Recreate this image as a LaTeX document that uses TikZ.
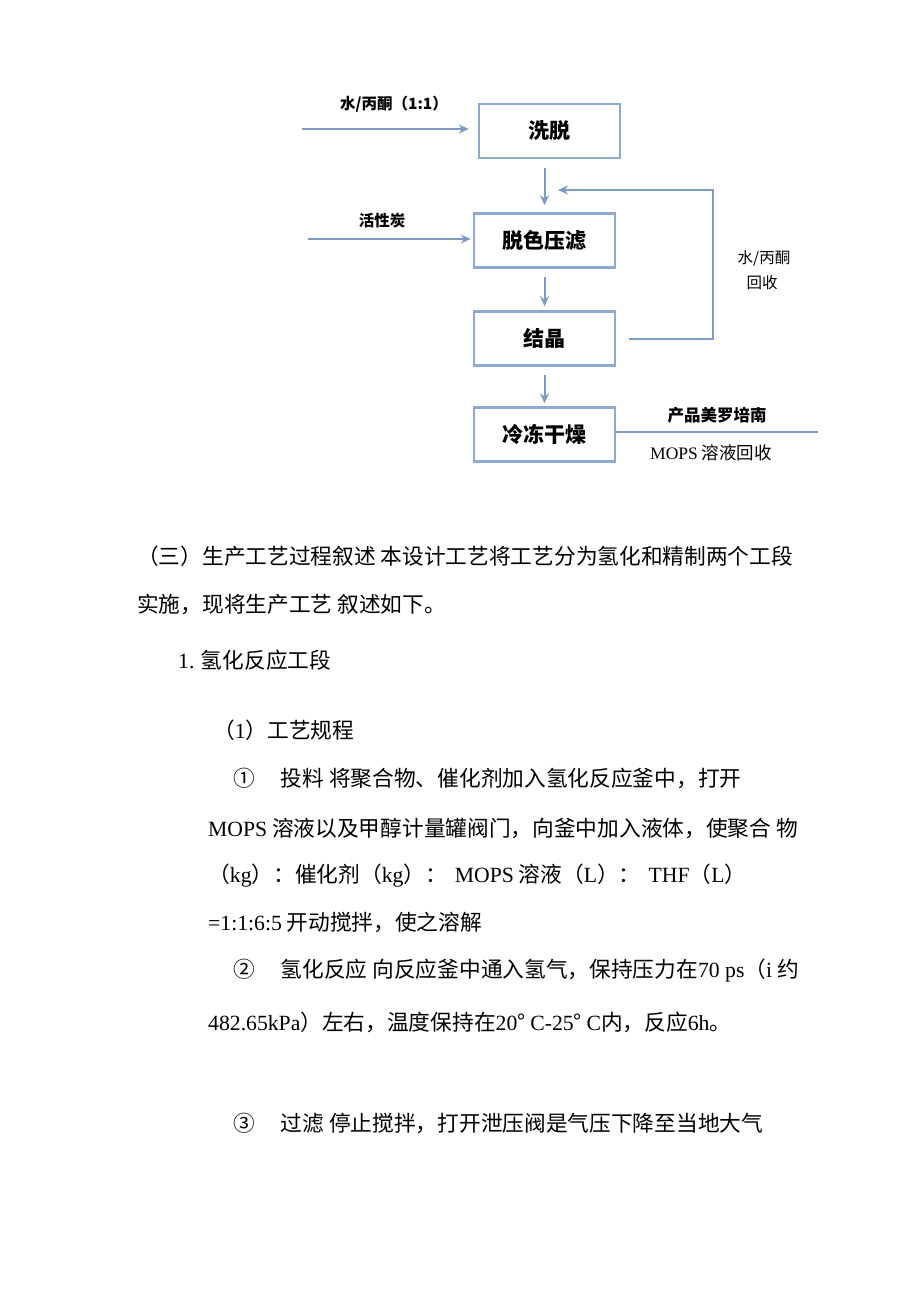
\documentclass[tikz,border=0pt]{standalone}
\usepackage{fontspec}
\setmainfont{Liberation Serif}
\newfontfamily\cjk{Noto Sans CJK SC}
\usetikzlibrary{arrows.meta}
\definecolor{boxc}{HTML}{8EAAD0}
\definecolor{arrc}{HTML}{7C9CC6}
\newcommand\lt[1]{{\rmfamily #1}}
\begin{document}
\begin{tikzpicture}[x=1pt,y=-1pt,
  box/.style={draw=boxc,line width=2.5pt,minimum width=141pt,minimum height=54pt,inner sep=0pt,font=\cjk\bfseries\fontsize{21}{24}\selectfont},
  flow/.style={draw=arrc,line width=2pt,-{Stealth[length=10pt,width=9pt]}},
  lbl/.style={inner sep=0pt,font=\cjk\bfseries\fontsize{15.5}{18}\selectfont},
  body/.style={anchor=west,inner sep=0pt,font=\cjk\fontsize{21.7}{26}\selectfont}]
\useasboundingbox[fill=white] (0,0) rectangle (920,1302);
% boxes
\node[box] (xt) at (549.5,131) {洗脱};
\node[box] (ts) at (544.5,240.5) {脱色压滤};
\node[box] (jj) at (544.5,338.5) {结晶};
\node[box] (ld) at (544.5,434.5) {冷冻干燥};
% free ends
\coordinate (in1) at (302,129);
\coordinate (in2) at (308,239);
\coordinate (fbtop) at (713,190);
\coordinate (fbend) at (558,190);
\coordinate (out) at (818,432);
% connectors
\draw[flow,shorten >=9pt] (in1) -- (in1 -| xt.west);
\draw[flow,shorten >=2pt] (in2) -- (in2 -| ts.west);
\draw[flow,shorten <=9pt,shorten >=7pt] (xt.south -| ts.north) -- (ts.north);
\draw[flow,shorten <=8pt,shorten >=4pt] (ts.south) -- (jj.north);
\draw[flow,shorten <=8pt,shorten >=3pt] (jj.south) -- (ld.north);
\draw[flow,shorten <=13pt] (jj.east) -- (jj.east -| fbtop) -- (fbtop) -- (fbend);
\draw[draw=arrc,line width=2pt] (ld.east |- out) -- (out);
% labels
\node[lbl] (l1) at (394,104) {水/丙酮（1:1）};
\node[lbl] (l2) at (382,221) {活性炭};
\node[lbl,font=\cjk\fontsize{15.5}{18}\selectfont] (l3) at (764,258) {水/丙酮};
\node[lbl,font=\cjk\fontsize{15.5}{18}\selectfont] (l4) at (762,283) {回收};
\node[lbl,font=\cjk\bfseries\fontsize{16.5}{18}\selectfont] (l5) at (717,415) {产品美罗培南};
\node[lbl,font=\cjk\fontsize{17.5}{20}\selectfont] (l6) at (711,453) {\lt{MOPS} 溶液回收};
% body text
\node[body] (t1) at (137,556) {（三）生产工艺过程叙述 本设计工艺将工艺分为氢化和精制两个工段};
\node[body] (t2) at (137,604) {实施，现将生产工艺 叙述如下。};
\node[body] (t3) at (178,660) {\lt{1.} 氢化反应工段};
\node[body] (t4) at (213,730) {（\lt{1}）工艺规程};
\node[body] (t5) at (233,778) {①\hspace{26pt}投料 将聚合物、催化剂加入氢化反应釜中，打开};
\node[body] (t6) at (208,828) {\lt{MOPS} 溶液以及甲醇计量罐阀门，向釜中加入液体，使聚合 物};
\node[body] (t7) at (208,876) {（\lt{kg}）：催化剂（\lt{kg}）：\hspace{8pt}\lt{MOPS} 溶液（\lt{L}）：\hspace{8pt}\lt{THF}（\lt{L}）};
\node[body] (t8) at (208,922) {\lt{=1:1:6:5} 开动搅拌，使之溶解};
\node[body] (t9) at (233,971) {②\hspace{26pt}氢化反应 向反应釜中通入氢气，保持压力在\lt{70 ps}（\lt{i} 约};
\node[body] (t10) at (208,1022) {\lt{482.65kPa}）左右，温度保持在\lt{20}° \lt{C-25}° \lt{C}内，反应\lt{6h}。};
\node[body] (t11) at (233,1123) {③\hspace{26pt}过滤 停止搅拌，打开泄压阀是气压下降至当地大气};
\end{tikzpicture}
\end{document}
